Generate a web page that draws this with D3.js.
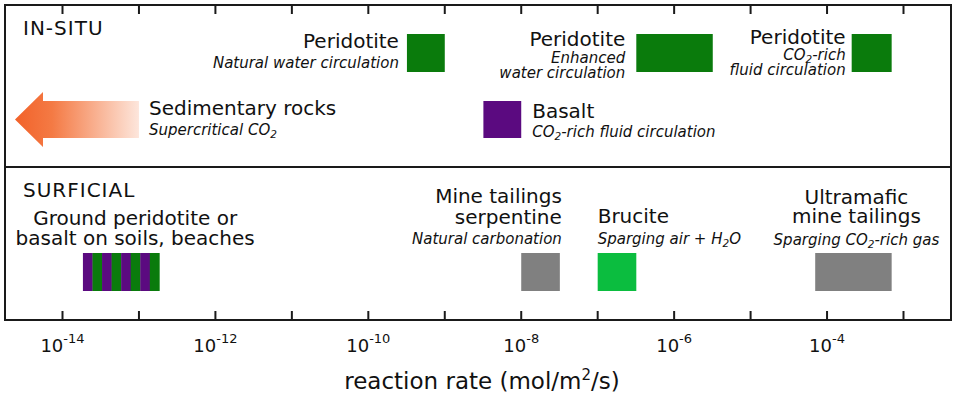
<!DOCTYPE html>
<html>
<head>
<meta charset="utf-8">
<script src="https://cdn.jsdelivr.net/npm/d3@7"></script>
<style>
  body { margin: 0; background: #fff; }
  text { font-family: "DejaVu Sans", Verdana, sans-serif; fill: #111; }
</style>
</head>
<body>
<script>
  // rates are in mol/m2/s
  const tickExps = d3.range(-14, -2);
  const labelExps = [-14, -12, -10, -8, -6, -4];
  const panelNames = ['IN-SITU', 'SURFICIAL'];
  const axisTitle = 'reaction rate (mol/m^2/s)';

  // in-situ
  const insituNames = ['Peridotite', 'Peridotite', 'Peridotite', 'Basalt'];
  const insituNotes = [['Natural water circulation'], ['Enhanced', 'water circulation'],
                       ['CO_2-rich', 'fluid circulation'], ['CO_2-rich fluid circulation']];
  const insituLo = [3.2e-10, 3.2e-7, 2.1e-4, 3.2e-9];
  const insituHi = [1e-9, 3.2e-6, 7e-4, 1e-8];
  const insituRock = ['peridotite', 'peridotite', 'peridotite', 'basalt'];

  const sedimentName = 'Sedimentary rocks';
  const sedimentNote = 'Supercritical CO_2';
  const sedimentMax = 1e-13;

  // surficial
  const surfNames = [['Ground peridotite or', 'basalt on soils, beaches'], ['Mine tailings', 'serpentine'],
                     ['Brucite'], ['Ultramafic', 'mine tailings']];
  const surfNotes = [[], ['Natural carbonation'], ['Sparging air + H_2O'], ['Sparging CO_2-rich gas']];
  const surfLo = [1.85e-14, 1e-8, 1e-7, 7e-5];
  const surfHi = [1.85e-13, 3.2e-8, 3.2e-7, 7e-4];
  const surfRock = ['mixed', 'tailings', 'brucite', 'tailings'];

  const width = 957, height = 397;
  const rockColor = { peridotite: '#0a7b0c', basalt: '#5b0a80', tailings: '#808080', brucite: '#0bbd3f' };
  const frame = { x0: 5, x1: 951, y0: 5, y1: 320, split: 167 };

  // label placement, one entry per box
  const insituRows = [[34, 72], [34, 72], [34, 72], [101, 138]];
  const insituLabel = [
    { anchor: 'end', dx: -8, y: [48, 68] },
    { anchor: 'end', dx: -11, y: [46, 63, 78] },
    { anchor: 'end', dx: -6, y: [44, 60, 75] },
    { anchor: 'start', dx: 11, y: [118, 137] }
  ];
  const surfRow = [253, 291];
  const surfLabel = [
    { anchor: 'middle', dx: 14, y: [225, 245] },
    { anchor: 'end', dx: 2, y: [203, 224, 244] },
    { anchor: 'start', dx: 0, y: [223, 244] },
    { anchor: 'middle', dx: 3, y: [204, 223, 245] }
  ];

  const x = d3.scaleLog().domain([1e-14, 1e-3]).range([62.5, 903.5]);

  const svg = d3.select('body').append('svg')
      .attr('width', width)
      .attr('height', height);

  // writes a string with _2 subscripts and ^2 superscripts into a text node
  function rich(t, str, small, down, up) {
    const parts = str.split(/([_^]-?\d+)/).filter(p => p !== '');
    let shift = 0;
    parts.forEach(p => {
      if (p[0] === '_' || p[0] === '^') {
        const d = p[0] === '_' ? down : -up;
        t.append('tspan').attr('font-size', small).attr('dy', d - shift).text(p.slice(1));
        shift = d;
      } else {
        t.append('tspan').attr('dy', -shift).text(p);
        shift = 0;
      }
    });
  }

  function label(xPos, anchor, ys, titles, notes) {
    titles.forEach((s, i) => {
      const t = svg.append('text').attr('x', xPos).attr('y', ys[i])
          .attr('text-anchor', anchor).attr('font-size', 20);
      rich(t, s, 14, 4, 8);
    });
    notes.forEach((s, j) => {
      const t = svg.append('text').attr('x', xPos).attr('y', ys[titles.length + j])
          .attr('text-anchor', anchor).attr('font-size', 15).attr('font-style', 'italic');
      rich(t, s, 10.5, 3, 6);
    });
  }

  function anchorX(lo, hi, pos) {
    if (pos.anchor === 'end') return lo + pos.dx;
    if (pos.anchor === 'start') return hi + pos.dx;
    return (lo + hi) / 2 + pos.dx;
  }

  // arrow gradient
  const grad = svg.append('defs').append('linearGradient')
      .attr('id', 'sed').attr('gradientUnits', 'userSpaceOnUse')
      .attr('x1', frame.x0 + 10).attr('x2', x(sedimentMax)).attr('y1', 0).attr('y2', 0);
  grad.append('stop').attr('offset', 0).attr('stop-color', '#f2622a');
  grad.append('stop').attr('offset', 0.3).attr('stop-color', '#f47a44');
  grad.append('stop').attr('offset', 1).attr('stop-color', '#fde6dc');

  // in-situ boxes
  insituLo.forEach((lo, i) => {
    const x0 = x(lo), x1 = x(insituHi[i]), r = insituRows[i];
    svg.append('rect')
        .attr('x', x0).attr('y', r[0])
        .attr('width', x1 - x0).attr('height', r[1] - r[0])
        .attr('fill', rockColor[insituRock[i]]);
    label(anchorX(x0, x1, insituLabel[i]), insituLabel[i].anchor, insituLabel[i].y,
          [insituNames[i]], insituNotes[i]);
  });

  // sedimentary arrow, open ended toward slow rates
  const ax1 = x(sedimentMax), tip = frame.x0 + 10, headX = tip + 28;
  const mid = 119.5;
  svg.append('path')
      .attr('d', d3.line()([
        [tip, mid], [headX, mid - 27.5], [headX, mid - 18.5], [ax1, mid - 18.5],
        [ax1, mid + 18.5], [headX, mid + 18.5], [headX, mid + 27.5]
      ]) + 'Z')
      .attr('fill', 'url(#sed)');
  label(ax1 + 10, 'start', [115, 135], [sedimentName], [sedimentNote]);

  // surficial boxes
  surfLo.forEach((lo, i) => {
    const x0 = x(lo), x1 = x(surfHi[i]);
    if (surfRock[i] === 'mixed') {
      const n = 8, w = (x1 - x0) / n;
      d3.range(n).forEach(k => {
        svg.append('rect')
            .attr('x', x0 + k * w).attr('y', surfRow[0])
            .attr('width', w + 0.3).attr('height', surfRow[1] - surfRow[0])
            .attr('fill', k % 2 ? rockColor.peridotite : rockColor.basalt);
      });
    } else {
      svg.append('rect')
          .attr('x', x0).attr('y', surfRow[0])
          .attr('width', x1 - x0).attr('height', surfRow[1] - surfRow[0])
          .attr('fill', rockColor[surfRock[i]]);
    }
    const pos = surfLabel[i];
    let ax;
    if (pos.anchor === 'end') ax = x1 + pos.dx;
    else if (pos.anchor === 'start') ax = x0 + pos.dx;
    else ax = (x0 + x1) / 2 + pos.dx;
    label(ax, pos.anchor, pos.y, surfNames[i], surfNotes[i]);
  });

  // panel names
  svg.append('text').attr('x', 23).attr('y', 35).attr('font-size', 20)
      .attr('letter-spacing', 1).text(panelNames[0]);
  svg.append('text').attr('x', 23).attr('y', 197).attr('font-size', 20)
      .attr('letter-spacing', 1).text(panelNames[1]);

  // frame and divider
  svg.append('rect')
      .attr('x', frame.x0).attr('y', frame.y0)
      .attr('width', frame.x1 - frame.x0).attr('height', frame.y1 - frame.y0)
      .attr('fill', 'none').attr('stroke', '#1a1a1a').attr('stroke-width', 2);
  svg.append('line')
      .attr('x1', frame.x0).attr('x2', frame.x1)
      .attr('y1', frame.split).attr('y2', frame.split)
      .attr('stroke', '#1a1a1a').attr('stroke-width', 2);

  // ticks on top and bottom edges
  const tickVals = tickExps.map(e => Math.pow(10, e));
  svg.append('g').selectAll('line.top').data(tickVals).enter().append('line')
      .attr('x1', d => x(d)).attr('x2', d => x(d))
      .attr('y1', frame.y0).attr('y2', frame.y0 + 9)
      .attr('stroke', '#1a1a1a').attr('stroke-width', 2);
  svg.append('g').selectAll('line.bot').data(tickVals).enter().append('line')
      .attr('x1', d => x(d)).attr('x2', d => x(d))
      .attr('y1', frame.y1 - 9).attr('y2', frame.y1)
      .attr('stroke', '#1a1a1a').attr('stroke-width', 2);

  // tick labels
  labelExps.forEach(e => {
    const t = svg.append('text')
        .attr('x', x(Math.pow(10, e))).attr('y', 352)
        .attr('text-anchor', 'middle').attr('font-size', 18);
    rich(t, '10^' + e, 13, 0, 9);
  });

  // axis title
  const at = svg.append('text').attr('x', 482).attr('y', 389)
      .attr('text-anchor', 'middle').attr('font-size', 23);
  rich(at, axisTitle, 15, 0, 9);
</script>
</body>
</html>
